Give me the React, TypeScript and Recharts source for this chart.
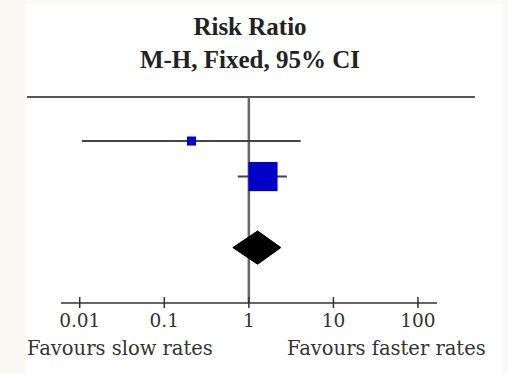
import React from 'react';
import { ComposedChart, Scatter, XAxis, YAxis, ReferenceLine } from 'recharts';

// individual studies (row 0 = top)
const STUDY_ROWS = [0, 1];
const STUDY_RATIOS = [0.21, 1.47];
const STUDY_LOWER = [0.0106, 0.74];
const STUDY_UPPER = [4.1, 2.82];
const STUDY_WEIGHTS = [8.8, 91.2];

// pooled estimate (M-H fixed)
const POOLED_ROW = 3;
const POOLED_RATIO = 1.27;
const POOLED_LOWER = 0.646;
const POOLED_UPPER = 2.39;

const X_TICKS = [0.01, 0.1, 1, 10, 100];
const X_TICK_LABELS = ['0.01', '0.1', '1', '10', '100'];

const SERIF = '"Liberation Serif", "Times New Roman", serif';
const WIDE_SERIF = '"DejaVu Serif", serif';
const SQUARE_SCALE = 3.05;
const DIAMOND_HALF = 0.47;

const studyData = STUDY_ROWS.map((row, i) => ({
  row,
  ratio: STUDY_RATIOS[i],
  weight: STUDY_WEIGHTS[i],
}));

const diamondData = [
  { ratio: POOLED_LOWER, row: POOLED_ROW },
  { ratio: POOLED_RATIO, row: POOLED_ROW - DIAMOND_HALF },
  { ratio: POOLED_UPPER, row: POOLED_ROW },
  { ratio: POOLED_RATIO, row: POOLED_ROW + DIAMOND_HALF },
];

const WeightSquare = (props: any) => {
  const s = Math.sqrt(props.payload.weight) * SQUARE_SCALE;
  return <rect x={props.cx - s / 2} y={props.cy - s / 2} width={s} height={s} fill="#0000c8" />;
};

const Diamond = (props: any) => {
  const pts = (props.points || []).map((p: any) => `${p.x},${p.y}`).join(' ');
  return <polygon points={pts} fill="#000" stroke="#000" strokeWidth={1} />;
};

const AxisTick = (props: any) => {
  const { x, y, payload } = props;
  const label = X_TICK_LABELS[X_TICKS.indexOf(payload.value)];
  return (
    <g>
      <line x1={x} x2={x} y1={y - 6} y2={y + 5} stroke="#333" strokeWidth={1.5} />
      <text x={x} y={y + 24} textAnchor="middle" fontFamily={WIDE_SERIF} fontSize={18.5} fill="#333">
        {label}
      </text>
    </g>
  );
};

const App: React.FC = () => {
  return (
    <div style={{ position: 'absolute', left: 0, top: 0, width: 508, height: 374, background: '#fcf8f3', overflow: 'hidden' }}>
      <div style={{ position: 'absolute', left: 26, top: 4, width: 476, height: 370, background: '#fff' }} />
      <div style={{ position: 'absolute', left: 0, width: 500, top: 13, textAlign: 'center', fontFamily: SERIF, fontWeight: 'bold', fontSize: 25, color: '#222' }}>
        Risk Ratio
      </div>
      <div style={{ position: 'absolute', left: 0, width: 500, top: 46, textAlign: 'center', fontFamily: SERIF, fontWeight: 'bold', fontSize: 25, color: '#222' }}>
        M-H, Fixed, 95% CI
      </div>
      <div style={{ position: 'absolute', left: 27, top: 96, width: 448, height: 2, background: '#555' }} />
      <div style={{ position: 'absolute', left: 0, top: 0 }}>
        <ComposedChart width={508} height={374} margin={{ top: 97, right: 71, bottom: 31, left: 61 }}>
          <XAxis
            dataKey="ratio"
            type="number"
            scale="log"
            domain={[0.006, 168]}
            ticks={X_TICKS}
            allowDataOverflow
            height={40}
            tickSize={0}
            tickMargin={0}
            tickLine={false}
            axisLine={{ stroke: '#333', strokeWidth: 1.5 }}
            tick={AxisTick}
          />
          <YAxis dataKey="row" type="number" domain={[-1.24, 4.56]} reversed hide allowDataOverflow />
          <ReferenceLine x={1} stroke="#666" strokeWidth={2.5} />
          {STUDY_ROWS.map((row, i) => (
            <ReferenceLine
              key={row}
              segment={[
                { x: STUDY_LOWER[i], y: row },
                { x: STUDY_UPPER[i], y: row },
              ]}
              stroke="#444"
              strokeWidth={2}
            />
          ))}
          <Scatter data={studyData} shape={WeightSquare} isAnimationActive={false} />
          <Scatter data={diamondData} line={Diamond} shape={() => <g />} isAnimationActive={false} />
        </ComposedChart>
      </div>
      <div style={{ position: 'absolute', left: 27, top: 337, fontFamily: WIDE_SERIF, fontSize: 19.5, color: '#333' }}>
        Favours slow rates
      </div>
      <div style={{ position: 'absolute', left: 287, top: 337, fontFamily: WIDE_SERIF, fontSize: 19.5, color: '#333' }}>
        Favours faster rates
      </div>
    </div>
  );
};

export default App;
